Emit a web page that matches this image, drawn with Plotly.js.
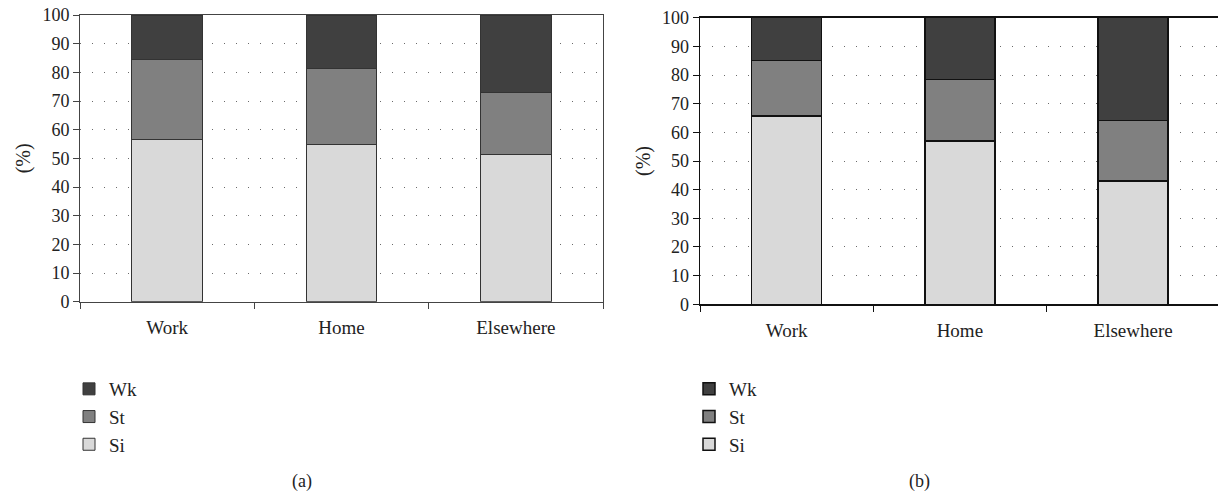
<!DOCTYPE html>
<html><head><meta charset="utf-8">
<script src="https://cdn.plot.ly/plotly-3.0.1.min.js"></script>
<style>html,body{margin:0;padding:0;overflow:hidden;background:#fff}</style>
</head><body><div id="chart" style="width:1218px;height:494px"></div>
<script>
// ---- data ----
const categories = ["Work", "Home", "Elsewhere"];
const seriesNames = ["Si", "St", "Wk"];
const aSi = [56.7, 55.0, 51.5];
const aSt = [27.9, 26.4, 21.6];
const aWk = [15.4, 18.6, 26.9];
const bSi = [65.7, 57.0, 43.1];
const bSt = [19.4, 21.5, 21.0];
const bWk = [14.9, 21.5, 35.9];
const yTicks = [0, 10, 20, 30, 40, 50, 60, 70, 80, 90, 100];
const panelLabels = ["(a)", "(b)"];
const yTitle = "(%)";

// ---- styles ----
const fills = {Si: "#d9d9d9", St: "#808080", Wk: "#404040"};
const W = 1218, H = 494;
const FONT = "Liberation Serif";

function mk(name, vals, xa, ya, lg, lineColor, lineW) {
  return {
    type: "bar", name: name, x: categories, y: vals,
    xaxis: xa, yaxis: ya, legend: lg,
    marker: {color: fills[name], line: {color: lineColor, width: lineW}},
    hoverinfo: "skip"
  };
}
const panelA = {Si: aSi, St: aSt, Wk: aWk};
const panelB = {Si: bSi, St: bSt, Wk: bWk};
const traces = [];
seriesNames.forEach(n => traces.push(mk(n, panelA[n], "x", "y", "legend", "#333", 1)));
seriesNames.forEach(n => traces.push(mk(n, panelB[n], "x2", "y2", "legend2", "#111", 1.5)));

function yax(domain, lc, lw, mirror) {
  return {
    domain: domain, range: [0, 100], tickvals: yTicks, ticks: "outside", ticklen: 6,
    tickcolor: lc, tickwidth: 1, showline: true, linecolor: lc, linewidth: lw, mirror: mirror,
    showgrid: true, gridcolor: "#6a6a6a", gridwidth: 1, griddash: "1px,11px",
    zeroline: false, tickfont: {family: FONT, size: 18, color: "#222"},
    title: {text: yTitle, font: {family: FONT, size: 20, color: "#222"}, standoff: 6},
    fixedrange: true
  };
}
function xax(domain, range, anchor, lc, lw) {
  return {
    domain: domain, range: range, anchor: anchor, type: "category",
    tickson: "boundaries", ticks: "outside", ticklen: 6, tickcolor: lc, tickwidth: 1,
    showline: true, linecolor: lc, linewidth: lw, mirror: true, showgrid: false,
    zeroline: false, tickfont: {family: FONT, size: 19, color: "#222"},
    ticklabelstandoff: 8, fixedrange: true
  };
}

const layout = {
  width: W, height: H, margin: {l: 0, r: 0, t: 0, b: 0},
  paper_bgcolor: "#fff", plot_bgcolor: "#fff",
  barmode: "stack", bargap: 0.596,
  font: {family: FONT, color: "#222"},
  xaxis: xax([80 / W, 603 / W], [-0.5, 2.5], "y", "#444", 1),
  yaxis: yax([(H - 301.7) / H, (H - 15) / H], "#444", 1, true),
  xaxis2: xax([700 / W, 1], [-0.5, 2.49], "y2", "#111", 2),
  yaxis2: yax([(H - 304.3) / H, (H - 17.7) / H], "#111", 1.5, false),
  legend: {x: 69 / W, y: (H - 370) / H, xanchor: "left", yanchor: "top", traceorder: "reversed",
           font: {family: FONT, size: 19, color: "#222"}, bgcolor: "rgba(0,0,0,0)"},
  legend2: {x: 689 / W, y: (H - 370) / H, xanchor: "left", yanchor: "top", traceorder: "reversed",
            font: {family: FONT, size: 19, color: "#222"}, bgcolor: "rgba(0,0,0,0)"},
  annotations: [
    {text: panelLabels[0], xref: "paper", yref: "paper", x: 302 / W, y: (H - 481) / H,
     xanchor: "center", yanchor: "middle", showarrow: false, font: {family: FONT, size: 18, color: "#222"}},
    {text: panelLabels[1], xref: "paper", yref: "paper", x: 919 / W, y: (H - 481) / H,
     xanchor: "center", yanchor: "middle", showarrow: false, font: {family: FONT, size: 18, color: "#222"}}
  ],
  showlegend: true
};
layout.yaxis2.anchor = "x2";
layout.xaxis2.anchor = "y2";

Plotly.newPlot("chart", traces, layout, {displayModeBar: false, staticPlot: true});
</script></body></html>
